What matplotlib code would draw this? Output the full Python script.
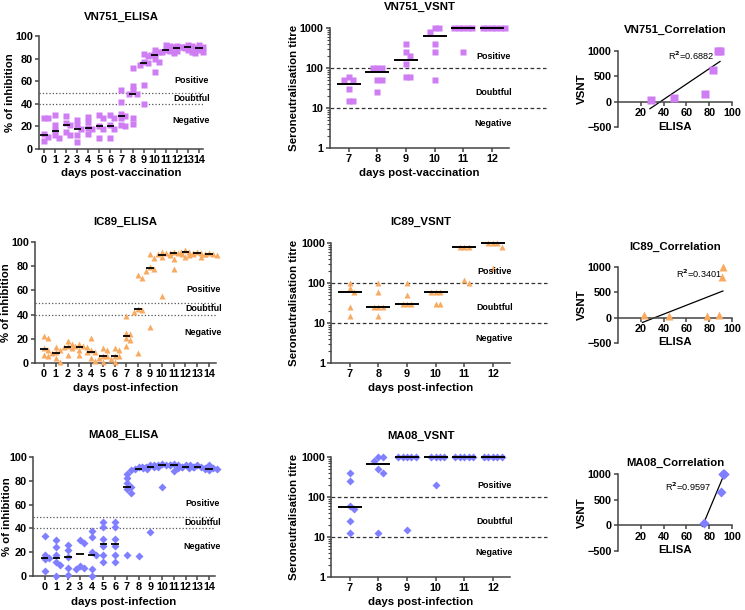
import matplotlib
matplotlib.use("Agg")
import matplotlib.pyplot as plt
import numpy as np
from matplotlib.ticker import LogLocator, NullFormatter

plt.rcParams['font.family'] = ['Liberation Sans', 'DejaVu Sans']
plt.rcParams['font.weight'] = 'bold'
plt.rcParams['axes.labelweight'] = 'bold'
plt.rcParams['axes.titleweight'] = 'bold'

# ---- data ----
days_elisa = list(range(15))
days_vsnt = [7, 8, 9, 10, 11, 12]
elisa_cutoffs = [40, 50]
vsnt_cutoffs = [10, 100]

vn751_elisa = [
    [27, 27, 13, 11, 7],
    [30, 21, 17, 12, 10],
    [29, 23, 21, 15, 12],
    [26, 21, 18, 12, 6],
    [28, 24, 19, 18, 13],
    [30, 27, 20, 18, 10],
    [30, 27, 21, 18, 10],
    [52, 42, 31, 29, 27, 21, 20],
    [72, 56, 52, 49, 49, 27, 22],
    [84, 82, 77, 76, 74, 57, 40],
    [88, 86, 84, 83, 80, 77, 68],
    [92, 91, 88, 87, 86, 85],
    [91, 90, 90, 89, 88, 87],
    [92, 91, 90, 89, 88, 86],
    [92, 90, 89, 88, 86, 85],
]
vn751_elisa_med = [12.5, 16, 21, 18, 19, 20, 20.5, 29, 49, 76, 83, 87.5, 89.5, 90, 89]
vn751_vsnt = [
    [60, 50, 50, 30, 15, 15],
    [100, 100, 100, 50, 50, 25],
    [400, 250, 200, 125, 60, 60],
    [1000, 1000, 800, 400, 250, 50],
    [1000, 1000, 1000, 1000, 1000, 250],
    [1000, 1000, 1000, 1000, 1000, 1000],
]
vn751_vsnt_med = [40, 78, 160, 620, 1000, 1000]

ic89_elisa = [
    [22, 21, 12, 11, 7, 6],
    [13, 11, 9, 8, 4, 1],
    [18, 16, 14, 13, 12, 7],
    [16, 14, 14, 13, 11, 7],
    [21, 11, 9, 9, 4, 2],
    [12, 11, 6, 6, 4, 1],
    [12, 11, 6, 6, 3, 1],
    [39, 25, 24, 21, 19, 14],
    [73, 70, 45, 44, 42, 8],
    [90, 87, 79, 78, 76, 30],
    [92, 91, 90, 89, 88, 55],
    [92, 91, 91, 90, 86, 78],
    [93, 92, 92, 91, 88],
    [92, 91, 90, 90, 89],
    [91, 90, 90, 89, 88],
]
ic89_elisa_med = [11.5, 8.5, 13, 13.5, 9, 6, 6, 22.5, 44.5, 78.5, 89, 91, 92, 90.5, 90]
ic89_vsnt = [
    [100, 75, 60, 25, 15],
    [100, 60, 25, 25, 25, 15],
    [100, 50, 30, 30, 30],
    [60, 60, 60, 30, 30],
    [800, 800, 800, 120, 100],
    [1000, 1000, 1000, 800, 240],
]
ic89_vsnt_med = [60, 25, 30, 60, 800, 1000]

ma08_elisa = [
    [34, 18, 15, 14, 4],
    [30, 24, 18, 12, 9, 0],
    [26, 22, 16, 7, 1],
    [30, 28, 8, 7, 6],
    [38, 33, 20, 18, 6, 0],
    [45, 41, 31, 25, 18, 12],
    [45, 41, 31, 25, 18, 12],
    [86, 82, 78, 75, 73, 70, 18],
    [92, 91, 90, 90, 89, 17],
    [93, 93, 92, 92, 92, 37],
    [94, 93, 93, 93, 92, 75],
    [94, 93, 93, 92, 88],
    [93, 93, 92, 92, 91],
    [93, 92, 92, 91, 91],
    [93, 91, 90, 90, 89],
]
ma08_elisa_med = [15, 15, 16, 18.5, 18, 27, 27, 75, 90, 92, 93, 93, 92, 92, 90]
ma08_vsnt = [
    [400, 250, 60, 50, 25, 12.5],
    [1000, 1000, 800, 500, 400, 12.5],
    [1000, 1000, 1000, 1000, 1000, 15],
    [1000, 1000, 1000, 1000, 200],
    [1000, 1000, 1000, 1000, 1000],
    [1000, 1000, 1000, 1000, 1000],
]
ma08_vsnt_med = [55, 650, 1000, 1000, 1000, 1000]

r2_values = [0.6882, 0.3401, 0.9597]
strains = ['VN751', 'IC89', 'MA08']
colors = ['#CF7DF2', '#F8AA60', '#7F7FFF']
markers = ['s', '^', 'D']

W, H = 745, 610
fig = plt.figure(figsize=(W / 100, H / 100), dpi=100)
AX_COL = '#444444'
TICK_FS = 7.8
LAB_FS = 8.2


def box(l, r, t, b):
    return [l / W, 1 - b / H, (r - l) / W, (b - t) / H]


def style(ax):
    for s in ['top', 'right']:
        ax.spines[s].set_visible(False)
    for s in ['left', 'bottom']:
        ax.spines[s].set_linewidth(1.1)
        ax.spines[s].set_color(AX_COL)
    ax.tick_params(labelsize=TICK_FS, width=1.1, length=3, color=AX_COL, pad=1.5)


def bold_ticks(ax):
    for lab in ax.get_xticklabels() + ax.get_yticklabels():
        lab.set_fontweight('bold')


def swarm(ax, x0, vals, d):
    # spread points sideways (in pixels) where they would overlap
    pts = ax.transData.transform([(x0, v) for v in vals])
    placed = []
    for px, py in pts:
        for k in [0, 1, -1, 2, -2, 3, -3, 4, -4]:
            cx = px + k * d
            if all(abs(cx - qx) >= d * 0.99 or abs(py - qy) >= d for qx, qy in placed):
                break
        placed.append((cx, py))
    return ax.transData.inverted().transform(placed)[:, 0]


def elisa_panel(ax, data, med, color, marker, ms, title, xlabel, xlim, pad, ylx, xly):
    style(ax)
    ax.set_xlim(*xlim)
    ax.set_ylim(0, 100)
    ax.set_xticks(days_elisa)
    ax.set_yticks(range(0, 101, 20))
    for c in elisa_cutoffs:
        ax.axhline(c, ls=':', lw=0.9, color='#555555', zorder=1)
    for d, vals in zip(days_elisa, data):
        xs = swarm(ax, d, vals, 4.0)
        ax.plot(xs, vals, ls='none', marker=marker, ms=ms, color=color, mec='none',
                zorder=3, clip_on=False)
    dd = np.array(days_elisa)
    ax.hlines(med, dd - 0.32, dd + 0.32, color='black', lw=1.3, zorder=4)
    for lab, y in [('Positive', 61), ('Doubtful', 45), ('Negative', 25)]:
        ax.text(0.93, y, lab, transform=ax.get_yaxis_transform(), ha='center',
                va='center', fontsize=6.4, fontweight='bold')
    ax.set_title(title, fontsize=LAB_FS, fontweight='bold', pad=pad)
    ax.set_xlabel(xlabel, fontsize=LAB_FS, fontweight='bold')
    ax.set_ylabel('% of inhibition', fontsize=LAB_FS, fontweight='bold')
    ax.yaxis.set_label_coords(ylx, 0.5)
    ax.xaxis.set_label_coords(0.5, xly)
    bold_ticks(ax)


def vsnt_panel(ax, data, med, color, marker, ms, title, xlabel, pad, ylx):
    style(ax)
    ax.set_yscale('log')
    ax.set_xlim(6.34, 12.6)
    ax.set_ylim(1, 1000)
    ax.set_xticks(days_vsnt)
    ax.set_yticks([1, 10, 100, 1000])
    ax.set_yticklabels(['1', '10', '100', '1000'])
    ax.yaxis.set_minor_locator(LogLocator(base=10, subs=np.arange(2, 10)))
    ax.yaxis.set_minor_formatter(NullFormatter())
    ax.tick_params(axis='y', which='minor', length=2, width=0.8, color=AX_COL)
    for c in vsnt_cutoffs:
        ax.plot([6.34, 13.9], [c, c], ls=(0, (3, 2)), lw=0.9, color='#333333',
                clip_on=False, zorder=1)
    for d, vals in zip(days_vsnt, data):
        xs = swarm(ax, d, vals, 4.4)
        ax.plot(xs, vals, ls='none', marker=marker, ms=ms, color=color, mec='none',
                zorder=3, clip_on=False)
    dd = np.array(days_vsnt)
    ax.hlines(med, dd - 0.42, dd + 0.42, color='black', lw=1.4, zorder=4, clip_on=False)
    for lab, y in [('Positive', 190), ('Doubtful', 25), ('Negative', 4.2)]:
        ax.text(12.05, y, lab, ha='center', va='center', fontsize=6.4, fontweight='bold')
    ax.set_title(title, fontsize=LAB_FS, fontweight='bold', pad=pad)
    ax.set_xlabel(xlabel, fontsize=LAB_FS, fontweight='bold')
    ax.set_ylabel('Seroneutralisation titre', fontsize=LAB_FS, fontweight='bold')
    ax.yaxis.set_label_coords(ylx, 0.5)
    ax.xaxis.set_label_coords(0.5, -0.167)
    bold_ticks(ax)


def corr_panel(ax, x, y, r2, color, marker, ms, title, pad, r2pos, xly):
    style(ax)
    ax.spines['bottom'].set_position(('data', 0))
    ax.set_xlim(0, 100)
    ax.set_ylim(-500, 1000)
    ax.set_xticks([20, 40, 60, 80, 100])
    ax.set_yticks([-500, 0, 500, 1000])
    ax.plot(x, y, ls='none', marker=marker, ms=ms, color=color, mec='none', zorder=3,
            clip_on=False)
    k, b = np.polyfit(x, y, 1)
    xx = np.array([min(x) - 1, max(x)])
    ax.plot(xx, k * xx + b, color='black', lw=0.9, zorder=2)
    ax.text(r2pos[0], r2pos[1], 'R$^2$=%.4f' % r2, fontsize=6.6, fontweight='normal',
            ha='left', va='center')
    ax.set_title(title, fontsize=LAB_FS, fontweight='bold', pad=pad)
    ax.set_xlabel('ELISA', fontsize=LAB_FS, fontweight='bold')
    ax.set_ylabel('VSNT', fontsize=LAB_FS, fontweight='bold')
    ax.xaxis.set_label_coords(0.5, xly)
    ax.yaxis.set_label_coords(-0.27, 0.5)
    bold_ticks(ax)


elisa_sets = [(vn751_elisa, vn751_elisa_med), (ic89_elisa, ic89_elisa_med), (ma08_elisa, ma08_elisa_med)]
vsnt_sets = [(vn751_vsnt, vn751_vsnt_med), (ic89_vsnt, ic89_vsnt_med), (ma08_vsnt, ma08_vsnt_med)]
xlabels = ['days post-vaccination', 'days post-infection', 'days post-infection']

elisa_boxes = [(39, 203, 36, 149), (35, 216, 242, 363), (33, 215, 457, 576)]
elisa_xlims = [(-0.45, 14.36), (-0.76, 14.6), (-1.0, 14.5)]
elisa_pads = [11.5, 12, 13.5]
elisa_ylx = [-0.146, -0.13, -0.115]
elisa_xly = [-0.168, -0.165, -0.176]

vsnt_boxes = [(330, 509, 28, 148), (331, 510, 243, 363), (331, 510, 457, 577)]
vsnt_pads = [13, 13, 13]

corr_boxes = [(618, 732, 51, 127), (618, 732, 267, 343), (618, 732, 474, 551)]
corr_pads = [13, 12, 5.5]
corr_r2pos = [(44, 900), (51, 872), (41, 756)]
corr_xly = [0.066, 0.079, 0.078]
ms_e = [4.2, 4.6, 3.8]
ms_v = [5.0, 5.0, 4.2]
ms_c = [5.5, 5.5, 4.8]

for i in range(3):
    ax = fig.add_axes(box(*elisa_boxes[i]))
    elisa_panel(ax, elisa_sets[i][0], elisa_sets[i][1], colors[i], markers[i], ms_e[i],
                strains[i] + '_ELISA', xlabels[i], elisa_xlims[i], elisa_pads[i],
                elisa_ylx[i], elisa_xly[i])

    l, r, t, b = vsnt_boxes[i]
    ax = fig.add_axes(box(l, r, t, b))
    vsnt_panel(ax, vsnt_sets[i][0], vsnt_sets[i][1], colors[i], markers[i], ms_v[i],
               strains[i] + '_VSNT', xlabels[i], vsnt_pads[i], (299 - l) / (r - l))

    # correlation uses the day 7-12 medians of both assays
    cx = [elisa_sets[i][1][d] for d in days_vsnt]
    cy = vsnt_sets[i][1]
    ax = fig.add_axes(box(*corr_boxes[i]))
    corr_panel(ax, cx, cy, r2_values[i], colors[i], markers[i], ms_c[i],
               strains[i] + '_Correlation', corr_pads[i], corr_r2pos[i], corr_xly[i])

fig.savefig('out.png', dpi=100)
